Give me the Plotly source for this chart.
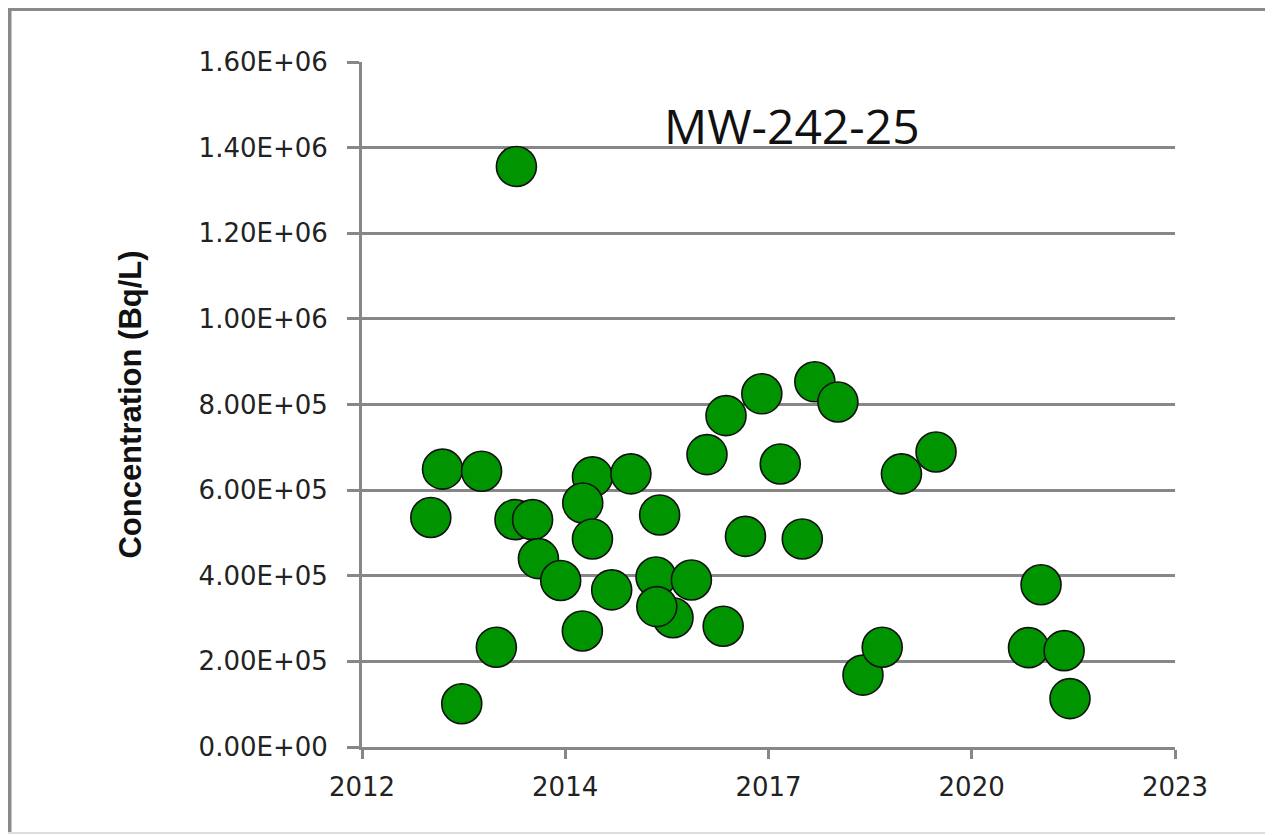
import plotly.graph_objects as go

# Sampling dates and tritium concentration for well MW-242-25
sample_dates = [
    '2012-12-06', '2013-02-02', '2013-05-08', '2013-08-14', '2013-10-26',
    '2014-02-02', '2014-01-26', '2014-04-23', '2014-05-22', '2014-09-09',
    '2015-02-13', '2014-12-25', '2014-12-27', '2015-02-13', '2015-05-19',
    '2015-08-22', '2016-03-17', '2015-12-24', '2015-12-28', '2016-01-11',
    '2016-06-16', '2016-09-01', '2016-11-20', '2016-12-04', '2017-03-10',
    '2017-05-30', '2017-08-29', '2018-02-16', '2017-12-16', '2018-06-10',
    '2018-10-12', '2019-01-15', '2019-10-08', '2019-04-20', '2021-01-07',
    '2021-03-10', '2021-07-02', '2021-07-31',
]
concentration = [
    536000, 649000, 101000, 644000, 233000,
    1356000, 531000, 531000, 440000, 389000,
    631000, 271000, 570000, 486000, 367000,
    638000, 302000, 397000, 328000, 542000,
    390000, 683000, 282000, 774000, 492000,
    825000, 661000, 853000, 486000, 806000,
    168000, 233000, 689000, 638000, 232000,
    379000, 225000, 113000,
]

# axis ticks: the source chart uses an even date step labelled by year
tick_dates = ['2012-01-01', '2014-10-01', '2017-07-02', '2020-04-01', '2023-01-01']
tick_years = ['2012', '2014', '2017', '2020', '2023']
y_ticks = [i * 200000 for i in range(9)]
y_tick_text = ['%.2fE+%02d' % (v / 10 ** (len(str(v)) - 1), len(str(v)) - 1) if v else '0.00E+00'
               for v in y_ticks]

GRID = '#878787'

# page body adds an 8px offset, so the figure is a bit smaller than the window
W, H = 1265, 827
ML, MR, MT, MB = 354, 98, 54, 88
PW, PH = W - ML - MR, H - MT - MB


def px_x(p):
    return (p - ML) / PW


def px_y(p):
    return 1 - (p - MT) / PH


fig = go.Figure()

fig.add_trace(go.Scatter(
    x=sample_dates,
    y=concentration,
    mode='markers',
    marker=dict(size=40, color='#009400', line=dict(color='#111111', width=1.6)),
    showlegend=False,
    hovertemplate='%{x}<br>%{y:.2e} Bq/L<extra></extra>'
))

fig.update_layout(
    width=W,
    height=H,
    plot_bgcolor='white',
    paper_bgcolor='white',
    margin=dict(l=ML, r=MR, t=MT, b=MB),
    font=dict(family='DejaVu Sans', color='#222222'),
    xaxis=dict(
        type='date',
        range=['2012-01-01', '2023-01-01'],
        tickvals=tick_dates,
        ticktext=tick_years,
        showgrid=False,
        zeroline=False,
        showline=True,
        linecolor=GRID,
        linewidth=3,
        ticks='outside',
        ticklen=9,
        tickwidth=3,
        tickcolor=GRID,
        tickfont=dict(size=26, family='DejaVu Sans', color='#222222'),
        ticklabelstandoff=6,
    ),
    yaxis=dict(
        range=[0, 1600000],
        tickvals=y_ticks,
        ticktext=y_tick_text,
        showgrid=True,
        gridcolor=GRID,
        gridwidth=3,
        zeroline=False,
        showline=True,
        linecolor=GRID,
        linewidth=3,
        ticks='outside',
        ticklen=12,
        tickwidth=3,
        tickcolor=GRID,
        tickfont=dict(size=26, family='DejaVu Sans', color='#222222'),
        ticklabelstandoff=14,
        title=dict(
            text='Concentration (Bq/L)',
            font=dict(size=31, family='Liberation Sans Narrow, Arial Narrow, sans-serif',
                      color='#111111', weight='bold'),
            standoff=48,
        ),
    ),
    annotations=[dict(
        text='MW-242-25',
        xref='paper', yref='paper',
        x=px_x(784), y=px_y(117),
        xanchor='center', yanchor='middle',
        showarrow=False,
        font=dict(size=48, family='Open Sans', color='#111111'),
    )],
    shapes=[
        # outer picture frame
        dict(type='line', xref='paper', yref='paper', x0=px_x(0), x1=px_x(W), y0=px_y(1), y1=px_y(1),
             line=dict(color='#8a8a8a', width=4)),
        dict(type='line', xref='paper', yref='paper', x0=px_x(1), x1=px_x(1), y0=px_y(825), y1=px_y(-1),
             line=dict(color='#8a8a8a', width=5)),
        dict(type='line', xref='paper', yref='paper', x0=px_x(0), x1=px_x(W), y0=px_y(825), y1=px_y(825),
             line=dict(color='#dddddd', width=2)),
    ],
)

fig.write_html('out.html')
